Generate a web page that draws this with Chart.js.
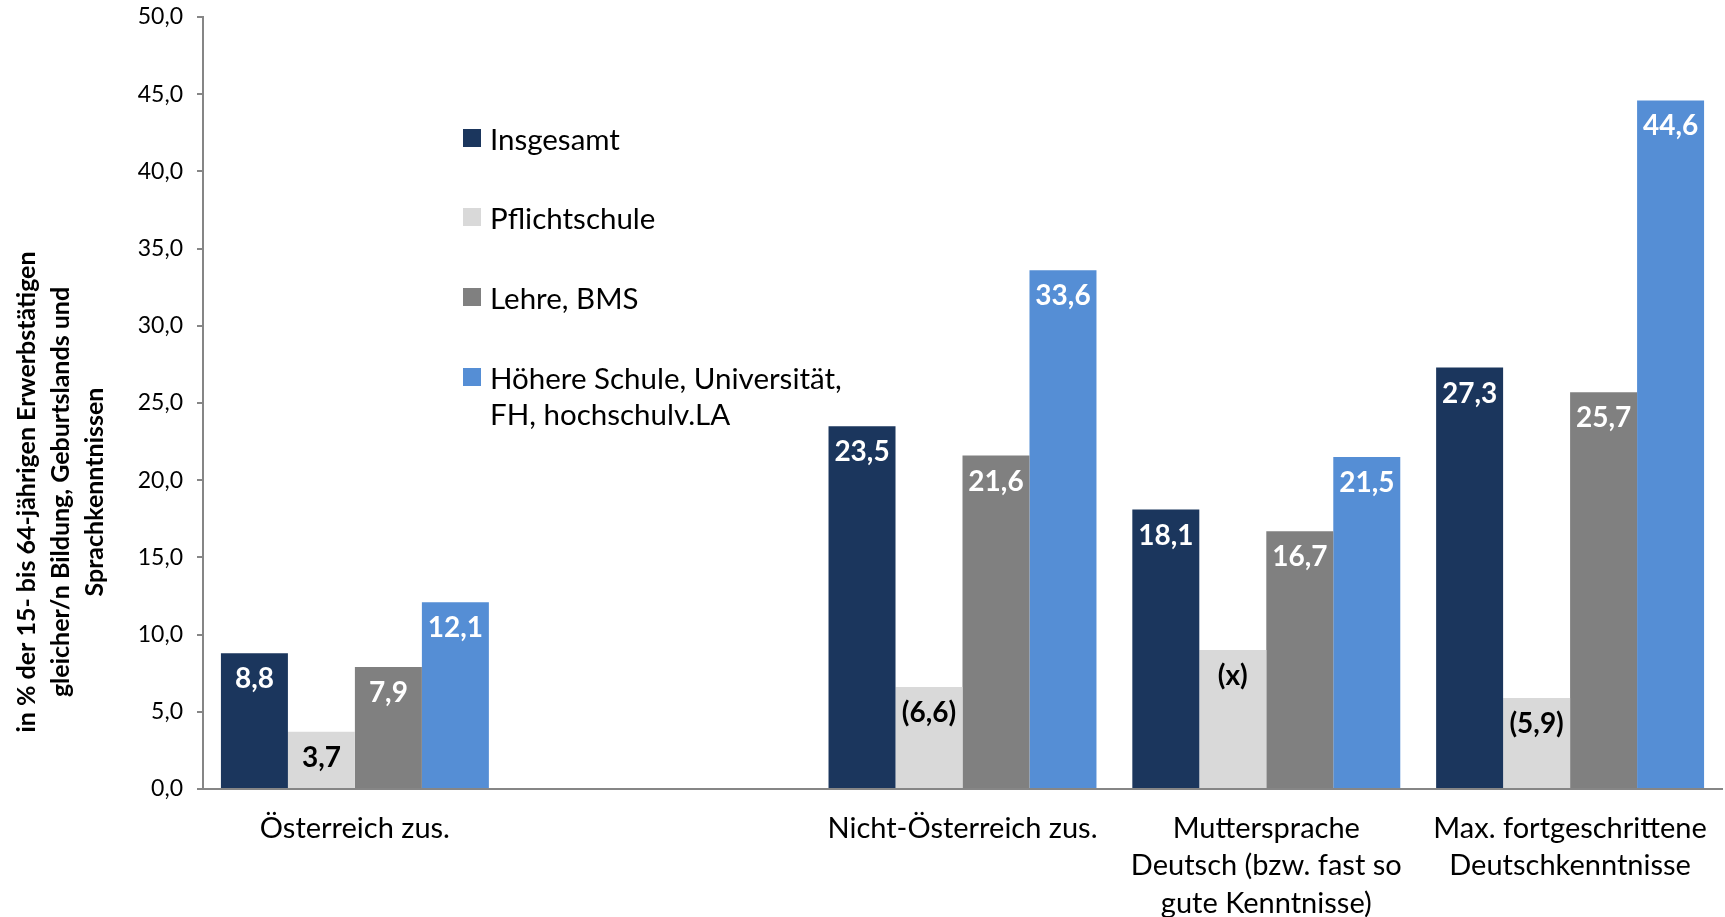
<!DOCTYPE html>
<html>
<head>
<meta charset="utf-8">
<script src="https://cdn.jsdelivr.net/npm/chart.js@4.4.1/dist/chart.umd.min.js"></script>
<style>
  html, body { margin: 0; padding: 0; background: #ffffff; }
  #wrap { width: 1725px; height: 917px; position: relative; }
</style>
</head>
<body>
<div id="wrap"><canvas id="c" width="1725" height="917"></canvas></div>
<script>
// Categories (the empty one keeps the gap after "Österreich zus.")
const categories = [
  ["Österreich zus."],
  [""],
  ["Nicht-Österreich zus."],
  ["Muttersprache", "Deutsch (bzw. fast so", "gute Kenntnisse)"],
  ["Max. fortgeschrittene", "Deutschkenntnisse"]
];

const seriesNames = ["Insgesamt", "Pflichtschule", "Lehre, BMS", "Höhere Schule, Universität, FH, hochschulv.LA"];
const legendLines = [["Insgesamt"], ["Pflichtschule"], ["Lehre, BMS"], ["Höhere Schule, Universität,", "FH, hochschulv.LA"]];

// Values in % per category
const insgesamt     = [8.8,  null, 23.5, 18.1, 27.3];
const pflichtschule = [3.7,  null, 6.6,  9.0,  5.9];
const lehreBms      = [7.9,  null, 21.6, 16.7, 25.7];
const hoehereSchule = [12.1, null, 33.6, 21.5, 44.6];

// Pflichtschule: "()" = limited reliability, "x" = suppressed
const pflichtMarks = ["", "", "()", "x", "()"];

const yTickValues = [0, 5, 10, 15, 20, 25, 30, 35, 40, 45, 50];

const yTitleLines = [
  "in % der 15- bis 64-jährigen Erwerbstätigen",
  "gleicher/n Bildung, Geburtslands und",
  "Sprachkenntnissen"
];

const colors = ["#1b365d", "#d9d9d9", "#808080", "#558ed5"];
const labelColors = ["#ffffff", "#000000", "#ffffff", "#ffffff"];
const FONT = "Lato";

const fmt = v => v.toFixed(1).replace(".", ",");

function labelText(dsIndex, i, v) {
  if (dsIndex === 1) {
    if (pflichtMarks[i] === "x") return "(x)";
    if (pflichtMarks[i] === "()") return "(" + fmt(v) + ")";
  }
  return fmt(v);
}

const valueLabels = {
  id: "valueLabels",
  afterDatasetsDraw(chart) {
    const ctx = chart.ctx;
    ctx.save();
    ctx.font = "bold 28px " + FONT;
    ctx.textAlign = "center";
    ctx.textBaseline = "middle";
    chart.data.datasets.forEach((ds, d) => {
      const meta = chart.getDatasetMeta(d);
      meta.data.forEach((el, i) => {
        const v = ds.data[i];
        if (v === null || v === undefined) return;
        ctx.fillStyle = labelColors[d];
        ctx.fillText(labelText(d, i, v), el.x, el.y + 26);
      });
    });
    ctx.restore();
  }
};

const sideTitle = {
  id: "sideTitle",
  afterDraw(chart) {
    const ctx = chart.ctx;
    ctx.save();
    ctx.translate(61, 492);
    ctx.rotate(-Math.PI / 2);
    ctx.font = "bold 25px " + FONT;
    ctx.fillStyle = "#000000";
    ctx.textAlign = "center";
    ctx.textBaseline = "middle";
    yTitleLines.forEach((t, k) => ctx.fillText(t, 0, (k - 1) * 34));
    ctx.restore();
  }
};

const boxLegend = {
  id: "boxLegend",
  afterDraw(chart) {
    const ctx = chart.ctx;
    const rows = [138, 217, 297, 377];
    ctx.save();
    ctx.font = "29.5px " + FONT;
    ctx.textAlign = "left";
    ctx.textBaseline = "middle";
    chart.data.datasets.forEach((ds, d) => {
      const cy = rows[d];
      ctx.fillStyle = ds.backgroundColor;
      ctx.fillRect(463, cy - 9, 18, 18);
      ctx.fillStyle = "#000000";
      legendLines[d].forEach((line, k) => ctx.fillText(line, 490, cy + 2 + k * 36));
    });
    ctx.restore();
  }
};

const series = [insgesamt, pflichtschule, lehreBms, hoehereSchule];

new Chart(document.getElementById("c"), {
  type: "bar",
  data: {
    labels: categories,
    datasets: series.map((s, d) => ({
      label: seriesNames[d],
      data: s,
      backgroundColor: colors[d],
      borderWidth: 0,
      categoryPercentage: 0.882,
      barPercentage: 1.0
    }))
  },
  options: {
    responsive: false,
    animation: false,
    devicePixelRatio: 1,
    layout: { padding: { top: 17, right: 3, bottom: 0, left: 0 } },
    plugins: {
      legend: { display: false },
      tooltip: { enabled: false }
    },
    scales: {
      x: {
        grid: { display: false },
        border: { display: true, color: "#868686", width: 2 },
        ticks: {
          color: "#000000",
          font: { family: FONT, size: 29, lineHeight: 1.29 },
          padding: 13,
          maxRotation: 0,
          autoSkip: false
        },
        afterFit(scale) { scale.height = 128; }
      },
      y: {
        min: 0,
        max: 50,
        afterBuildTicks(scale) { scale.ticks = yTickValues.map(v => ({ value: v })); },
        grid: { display: true, drawOnChartArea: false, drawTicks: true, tickLength: 6, color: "#868686", lineWidth: 2 },
        border: { display: true, color: "#868686", width: 2 },
        ticks: {
          color: "#000000",
          font: { family: FONT, size: 23 },
          padding: 14,
          callback: v => fmt(v)
        },
        afterFit(scale) {
          scale.width = 203;
          scale.paddingTop = 0;
          scale.paddingBottom = 0;
        }
      }
    }
  },
  plugins: [valueLabels, sideTitle, boxLegend]
});
</script>
</body>
</html>
